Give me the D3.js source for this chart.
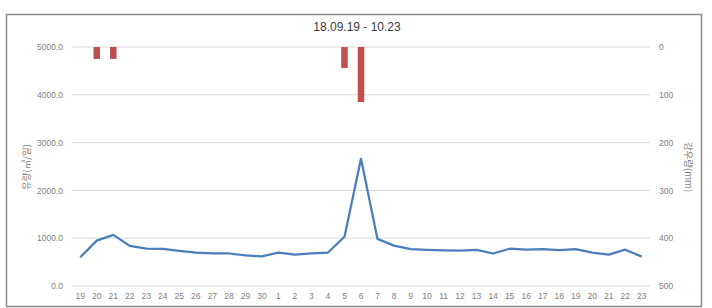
<!DOCTYPE html>
<html>
<head>
<meta charset="utf-8">
<script src="https://cdn.jsdelivr.net/npm/d3@7/dist/d3.min.js"></script>
<style>
  body { margin: 0; background: #fff; }
  svg { display: block; font-family: "Liberation Sans", "Noto Sans CJK KR", sans-serif; }
</style>
</head>
<body>
<script>
// chart data
var days = ["19","20","21","22","23","24","25","26","27","28","29","30",
            "1","2","3","4","5","6","7","8","9","10","11","12","13","14","15",
            "16","17","18","19","20","21","22","23"];
var flow = [600, 950, 1070, 840, 780, 775, 735, 700, 680, 680, 640, 620,
            700, 655, 680, 700, 1030, 2660, 985, 845, 770, 755, 745, 740, 755, 680, 780,
            760, 770, 750, 770, 700, 655, 760, 615];
var rain = [0, 25, 25, 0, 0, 0, 0, 0, 0, 0, 0, 0,
            0, 0, 0, 0, 44, 115, 0, 0, 0, 0, 0, 0, 0, 0, 0,
            0, 0, 0, 0, 0, 0, 0, 0];
var flowTicks = [0, 1000, 2000, 3000, 4000, 5000];
var rainTicks = [0, 100, 200, 300, 400, 500];

var svgWidth = 712, svgHeight = 308;
var margin = {top: 47, right: 62, bottom: 22, left: 72},
    width = svgWidth - margin.left - margin.right,
    height = svgHeight - margin.top - margin.bottom;

var svg = d3.select("body").append("svg").attr("width", svgWidth).attr("height", svgHeight);

// outer frame
svg.append("rect")
    .attr("x", 6.5).attr("y", 14.5)
    .attr("width", 695).attr("height", 292)
    .attr("fill", "#fff").attr("stroke", "#8c8c8c").attr("stroke-width", 1.5);

svg.append("text")
    .attr("x", 357).attr("y", 31)
    .attr("text-anchor", "middle")
    .attr("font-size", "12px")
    .attr("fill", "#404040")
    .text("18.09.19 - 10.23");

var chartGroup = svg.append("g").attr("transform", `translate(${margin.left},${margin.top})`);

var xScale = d3.scaleBand().domain(d3.range(days.length)).range([0, width]);
var yLeft = d3.scaleLinear().domain([0, 5000]).range([height, 0]);
var yRight = d3.scaleLinear().domain([0, 500]).range([0, height]);

// gridlines
chartGroup.selectAll(".grid")
    .data(flowTicks)
  .enter().append("line")
    .attr("x1", 0).attr("x2", width)
    .attr("y1", function(d) { return yLeft(d); })
    .attr("y2", function(d) { return yLeft(d); })
    .attr("stroke", "#d9d9d9").attr("stroke-width", 1);

// left axis
var leftAxis = chartGroup.append("g")
    .call(d3.axisLeft(yLeft).tickValues(flowTicks).tickFormat(d3.format(".1f")).tickSize(0).tickPadding(9));
leftAxis.select(".domain").remove();
leftAxis.selectAll("text").attr("font-size", "8.5px").attr("fill", "#7f7f7f");

// right axis
var rightAxis = chartGroup.append("g")
    .attr("transform", `translate(${width},0)`)
    .call(d3.axisRight(yRight).tickValues(rainTicks).tickSize(0).tickPadding(9));
rightAxis.select(".domain").remove();
rightAxis.selectAll("text").attr("font-size", "8.5px").attr("fill", "#7f7f7f");

// bottom axis
var bottomAxis = chartGroup.append("g")
    .attr("transform", `translate(0,${height})`)
    .call(d3.axisBottom(xScale).tickFormat(function(i) { return days[i]; }).tickSize(0).tickPadding(7));
bottomAxis.select(".domain").remove();
bottomAxis.selectAll("text").attr("font-size", "8.5px").attr("fill", "#7f7f7f");

// axis titles
svg.append("text")
    .attr("text-anchor", "middle")
    .attr("transform", "translate(30,167)rotate(-90)")
    .attr("font-size", "9.5px")
    .attr("fill", "#7f7f7f")
    .attr("font-family", "Noto Sans CJK KR")
    .text("유량(㎥/일)");

svg.append("text")
    .attr("text-anchor", "middle")
    .attr("transform", "translate(685,167)rotate(90)")
    .attr("font-size", "9.5px")
    .attr("fill", "#7f7f7f")
    .attr("font-family", "Noto Sans CJK KR")
    .text("강우량(mm)");

// rain bars hanging from the top
var barW = 6.5;
chartGroup.selectAll(".bar")
    .data(rain)
  .enter().append("rect")
    .attr("x", function(d, i) { return xScale(i) + xScale.bandwidth() / 2 - barW / 2; })
    .attr("y", yRight(0))
    .attr("width", barW)
    .attr("height", function(d) { return yRight(d) - yRight(0); })
    .attr("fill", "#c0504d");

// flow line
var line = d3.line()
    .x(function(d, i) { return xScale(i) + xScale.bandwidth() / 2; })
    .y(function(d) { return yLeft(d); });

chartGroup.append("path")
    .datum(flow)
    .attr("d", line)
    .attr("fill", "none")
    .attr("stroke", "#4a7ebb")
    .attr("stroke-width", 2.25)
    .attr("stroke-linejoin", "round");
</script>
</body>
</html>
